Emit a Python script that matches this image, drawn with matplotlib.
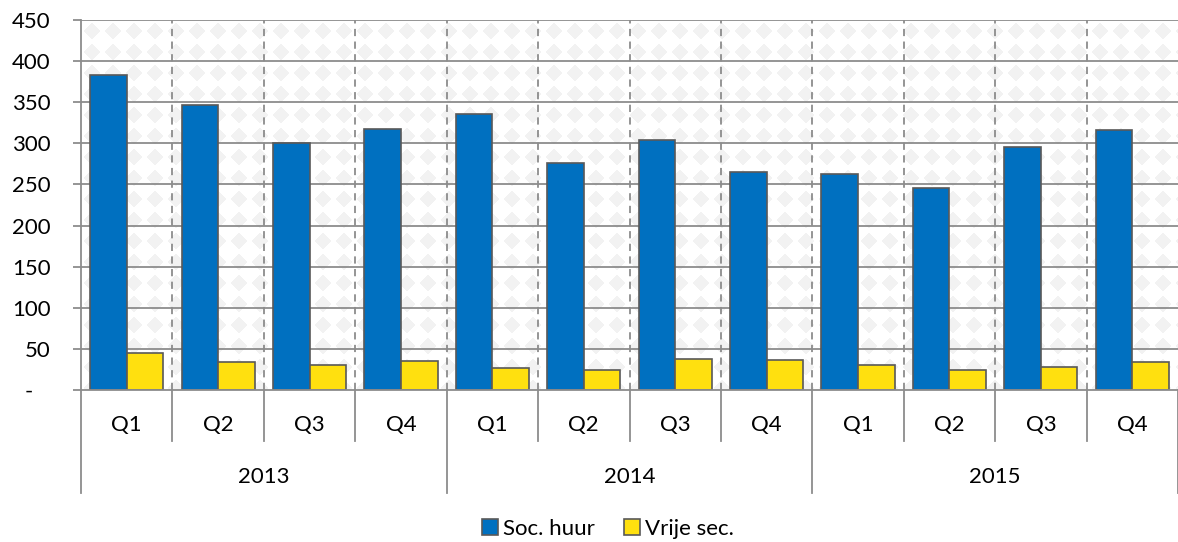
import numpy as np
import matplotlib
matplotlib.use("Agg")
import matplotlib.pyplot as plt
from matplotlib.patches import Patch
import matplotlib.transforms as mtransforms

# ---- data ----
years = ["2013", "2014", "2015"]
quarters = ["Q1", "Q2", "Q3", "Q4"]
soc_huur = [383, 347, 300, 317, 336, 276, 304, 265, 263, 246, 296, 316]
vrije_sec = [45, 34, 31, 35, 27, 24, 38, 36, 31, 24, 28, 34]
series_names = ["Soc. huur", "Vrije sec."]
yticks = [0, 50, 100, 150, 200, 250, 300, 350, 400, 450]
ytick_labels = ["-   ", "50", "100", "150", "200", "250", "300", "350", "400", "450"]

BLUE = "#0070C0"
YELLOW = "#FFE00F"
EDGE = "#595959"
GRID = "#8C8C8C"
FS = 16

plt.rcParams['font.family'] = ['Lato', 'DejaVu Sans']

W, H = 1178, 542
fig = plt.figure(figsize=(W / 100, H / 100), dpi=100)
L, R, T, B = 81, 1178, 20, 390
ax = fig.add_axes([L / W, 1 - B / H, (R - L) / W, (B - T) / H])

n = len(soc_huur)
x = np.arange(n)
ax.set_xlim(-0.5, n - 0.5)
ax.set_ylim(0, 450)

# background diamond pattern
pw, ph = R - L, B - T
P = 21
yy, xx = np.mgrid[0:ph, 0:pw]
u = (xx % P) - P / 2
v = (yy % P) - P / 2
mask = (np.abs(u) + np.abs(v)) < 8.5
img = np.ones((ph, pw, 3))
img[mask] = np.array([0xf2, 0xf2, 0xf2]) / 255.0
ax.imshow(img, extent=(-0.5, n - 0.5, 0, 450), aspect='auto', zorder=0,
          interpolation='nearest')

# gridlines
for yt in yticks[1:]:
    ax.axhline(yt, color=GRID, lw=1.3, zorder=1)
for b in np.arange(0.5, n - 0.5, 1):
    ax.axvline(b, color=GRID, lw=1.3, ls=(0, (4, 3)), zorder=1)

bw = 0.4
ax.bar(x - bw / 2, soc_huur, width=bw, color=BLUE, edgecolor=EDGE, lw=1.2, zorder=3,
       label=series_names[0])
ax.bar(x + bw / 2, vrije_sec, width=bw, color=YELLOW, edgecolor=EDGE, lw=1.2, zorder=3,
       label=series_names[1])

for s in ["top", "right"]:
    ax.spines[s].set_visible(False)
for s in ["left", "bottom"]:
    ax.spines[s].set_color(GRID)
    ax.spines[s].set_linewidth(1.3)
    ax.spines[s].set_zorder(4)

ax.set_yticks(yticks)
ax.set_yticklabels(ytick_labels, fontsize=FS)
ax.tick_params(axis='y', length=6, width=1.3, color=GRID, pad=16)
ax.set_xticks([])

# multi-level category axis
trans = mtransforms.blended_transform_factory(ax.transData, ax.transAxes)
h = B - T
q_len = (441 - B) / h
y_len = (493 - B) / h
for i in range(n + 1):
    b = i - 0.5
    depth = y_len if i % 4 == 0 else q_len
    ax.plot([b, b], [0, -depth], transform=trans, color=GRID, lw=1.3,
            clip_on=False, zorder=5)
for i in range(n):
    ax.text(i, -(425 - B) / h, quarters[i % 4], transform=trans, ha='center',
            va='center', fontsize=FS)
for j, yr in enumerate(years):
    ax.text(j * 4 + 1.5, -(477 - B) / h, yr, transform=trans, ha='center',
            va='center', fontsize=FS)

handles = [Patch(facecolor=BLUE, edgecolor=EDGE, lw=1.2),
           Patch(facecolor=YELLOW, edgecolor=EDGE, lw=1.2)]
fig.legend(handles, series_names, loc='center', bbox_to_anchor=(608 / W, 1 - 529 / H),
           ncol=2, frameon=False, fontsize=FS, handlelength=0.7, handleheight=0.7,
           handletextpad=0.25, columnspacing=1.3, borderpad=0)

fig.savefig("out.png", dpi=100)
